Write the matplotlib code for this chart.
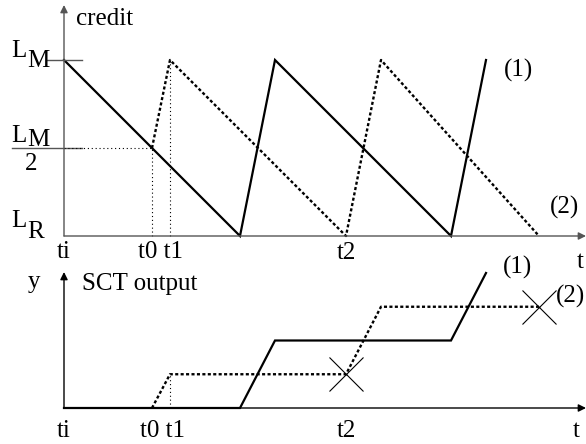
import matplotlib
matplotlib.use("Agg")
import matplotlib.pyplot as plt

# time instants (same time base for both panels)
ti, t0, t1, t2 = 0, 88, 106, 282
t_end = 522

# credit of flow (1) and flow (2), LR = 0, LM = 1
t_cred1 = [0, 176, 211, 387, 422]
cred1 = [1, 0, 1, 0, 1]
t_cred2 = [t0, t1, t2, 317, 475]
cred2 = [0.5, 1, 0, 1, 0]

# SCT output levels
t_out1 = [0, 176, 211, 387, 422]
out1 = [0, 0, 1, 1, 2]
t_out2 = [t0, t1, t2, 317, 475]
out2 = [0, 0.5, 0.5, 1.5, 1.5]
crosses_t = [t2, 475]
crosses_y = [0.5, 1.5]

W, H = 586, 444
plt.rcParams['font.family'] = ['Liberation Serif', 'DejaVu Serif']
fs = 18

fig = plt.figure(figsize=(W / 100, H / 100), dpi=100)

# pixel geometry of the two panels
x0 = 64
top_base, top_tip, top_unit = 236, 5, 176
bot_base, bot_tip, bot_unit = 408, 272, 67.5

ax1 = fig.add_axes([x0 / W, (H - top_base) / H, (W - x0) / W, (top_base - top_tip) / H])
ax1.set_xlim(0, t_end)
ax1.set_ylim(0, (top_base - top_tip) / top_unit)
ax1.axis('off')

ax2 = fig.add_axes([x0 / W, (H - bot_base) / H, (W - x0) / W, (bot_base - bot_tip) / H])
ax2.set_xlim(0, t_end)
ax2.set_ylim(0, (bot_base - bot_tip) / bot_unit)
ax2.axis('off')


def arrow_axes(ax, color):
    xmax = ax.get_xlim()[1]
    ymax = ax.get_ylim()[1]
    kw = dict(arrowstyle='-|>', color=color, lw=1.0, mutation_scale=11,
              shrinkA=0, shrinkB=0)
    ax.annotate('', xy=(xmax, 0), xytext=(0, 0), arrowprops=kw, annotation_clip=False)
    ax.annotate('', xy=(0, ymax), xytext=(0, 0), arrowprops=kw, annotation_clip=False)


def txt(ax, x, y, s, ha='left'):
    ax.text(x, y, s, fontsize=fs, va='baseline', ha=ha, clip_on=False)


def px(base, unit, xp, yp):
    # pixel position -> data position of a panel
    return xp - x0, (base - yp) / unit


dot_style = (0, (1.3, 1.0))
guide_style = (0, (1, 2.5))

# ---------------- credit panel ----------------
arrow_axes(ax1, '#555555')
ax1.plot(t_cred1, cred1, color='black', lw=1.6, solid_joinstyle='miter', clip_on=False)
ax1.plot(t_cred2, cred2, color='black', lw=1.7, ls=dot_style, clip_on=False)

# level marks
ax1.plot([-17, 18], [1, 1], color='#555555', lw=1.0, clip_on=False)
ax1.plot([-52, 18], [0.5, 0.5], color='#555555', lw=1.0, clip_on=False)
ax1.plot([0, t0], [0.5, 0.5], color='black', lw=0.8, ls=guide_style, clip_on=False)
ax1.plot([t0, t0], [0, 0.5], color='black', lw=0.8, ls=guide_style, clip_on=False)
ax1.plot([t1, t1], [0, 1], color='black', lw=0.8, ls=guide_style, clip_on=False)

P = lambda xp, yp: px(top_base, top_unit, xp, yp)
txt(ax1, *P(76, 25), 'credit')
txt(ax1, *P(11, 57), 'L')
txt(ax1, *P(27, 67), 'M')
txt(ax1, *P(11, 142), 'L')
txt(ax1, *P(27, 146), 'M')
txt(ax1, *P(25, 170), '2')
txt(ax1, *P(11, 227), 'L')
txt(ax1, *P(27, 238), 'R')
txt(ax1, ti - 7, P(0, 258)[1], 'ti')
txt(ax1, *P(138, 258), 't0 t1')
txt(ax1, t2, P(0, 259)[1], 't2', ha='center')
txt(ax1, *P(577, 268), 't')
txt(ax1, *P(504, 77), '(1)')
txt(ax1, *P(550, 214), '(2)')

# ---------------- SCT output panel ----------------
arrow_axes(ax2, 'black')
ax2.plot(t_out1, out1, color='black', lw=1.6, solid_joinstyle='miter', clip_on=False)
ax2.plot(t_out2, out2, color='black', lw=1.7, ls=dot_style, clip_on=False)
ax2.plot([t1, t1], [0, 0.5], color='black', lw=0.8, ls=guide_style, clip_on=False)
ax2.plot(crosses_t, crosses_y, ls='none', marker='x', markersize=25,
         markeredgewidth=0.8, color='black', clip_on=False)

Q = lambda xp, yp: px(bot_base, bot_unit, xp, yp)
txt(ax2, *Q(28, 288), 'y')
txt(ax2, *Q(82, 290), 'SCT output')
txt(ax2, ti - 7, Q(0, 437)[1], 'ti')
txt(ax2, *Q(140, 437), 't0 t1')
txt(ax2, t2, Q(0, 437)[1], 't2', ha='center')
txt(ax2, *Q(573, 437), 't')
txt(ax2, *Q(503, 274), '(1)')
txt(ax2, *Q(556, 303), '(2)')

fig.savefig('out.png', dpi=100)
